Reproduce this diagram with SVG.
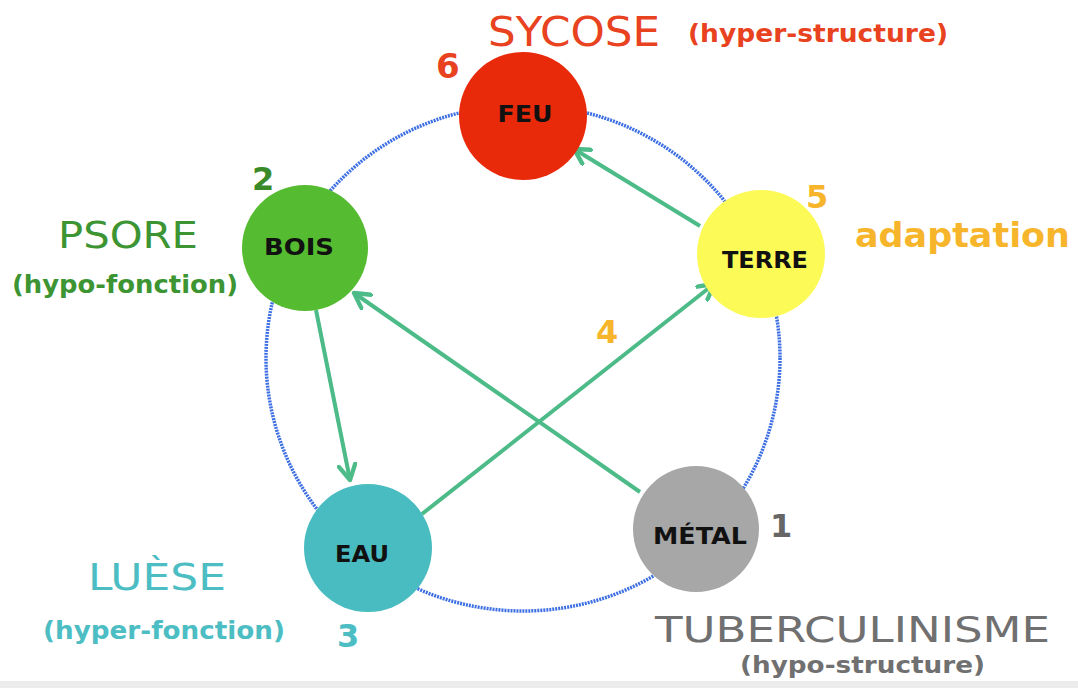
<svg xmlns="http://www.w3.org/2000/svg" width="1078" height="688" viewBox="0 0 1078 688">
<style>
text{font-family:"DejaVu Sans","Liberation Sans",sans-serif}
.lbl{font-size:23px;font-weight:bold;fill:#111;text-anchor:middle}
.node circle{stroke:none}
.conn line{stroke:#4dbb88;stroke-width:4;fill:none}
</style>
<defs>
<marker id="ah" viewBox="0 0 12 12" refX="10" refY="6" markerWidth="5" markerHeight="5" orient="auto" markerUnits="strokeWidth">
<path d="M1,1 L10,6 L1,11" fill="none" stroke="#4dbb88" stroke-width="2.6" stroke-linecap="round" stroke-linejoin="round"/>
</marker>
</defs>
<rect width="1078" height="688" fill="#ffffff"/>
<rect x="0" y="681" width="1078" height="7" fill="#ececec"/>
<ellipse id="cycle" cx="523" cy="358" rx="257" ry="253" fill="none" stroke="#3d6fe3" stroke-width="3.5" stroke-dasharray="2 1"/>
<g class="conn">
<line x1="700" y1="226" x2="574" y2="149" marker-end="url(#ah)"/>
<line x1="316" y1="310" x2="350" y2="480" marker-end="url(#ah)"/>
<line x1="422" y1="514" x2="714" y2="284" marker-end="url(#ah)"/>
<line x1="640" y1="492" x2="354" y2="293" marker-end="url(#ah)"/>
</g>
<g id="feu" class="node"><circle cx="523" cy="116" r="64" fill="#e8290a"/><text class="lbl" x="525" y="122" textLength="55" lengthAdjust="spacingAndGlyphs">FEU</text></g>
<g id="bois" class="node"><circle cx="305" cy="248" r="63" fill="#55bb30"/><text class="lbl" x="299" y="255" textLength="70" lengthAdjust="spacingAndGlyphs">BOIS</text></g>
<g id="terre" class="node"><circle cx="761" cy="254" r="64" fill="#fcfa57"/><text class="lbl" x="765" y="268" textLength="86" lengthAdjust="spacingAndGlyphs">TERRE</text></g>
<g id="eau" class="node"><circle cx="368" cy="548" r="64" fill="#48bcc0"/><text class="lbl" x="362" y="562" textLength="54" lengthAdjust="spacingAndGlyphs">EAU</text></g>
<g id="metal" class="node"><circle cx="696" cy="529" r="63" fill="#a7a7a7"/><text class="lbl" x="700" y="544" textLength="94" lengthAdjust="spacingAndGlyphs">MÉTAL</text></g>
<g id="labels">
<text x="488" y="46" font-size="40" fill="#e84220" textLength="172" lengthAdjust="spacingAndGlyphs">SYCOSE</text>
<text x="688" y="42" font-size="25" font-weight="bold" fill="#e84220" textLength="260" lengthAdjust="spacingAndGlyphs">(hyper-structure)</text>
<text x="436" y="78" font-size="34" font-weight="bold" fill="#e84220">6</text>
<text x="252" y="190" font-size="32" font-weight="bold" fill="#3a8a2a">2</text>
<text x="58" y="248" font-size="38" fill="#3c9532" textLength="140" lengthAdjust="spacingAndGlyphs">PSORE</text>
<text x="12" y="293" font-size="25" font-weight="bold" fill="#3c9532" textLength="226" lengthAdjust="spacingAndGlyphs">(hypo-fonction)</text>
<text x="806" y="208" font-size="32" font-weight="bold" fill="#f6b52a">5</text>
<text x="855" y="247" font-size="34" font-weight="bold" fill="#f6b52a" textLength="215" lengthAdjust="spacingAndGlyphs">adaptation</text>
<text x="596" y="343" font-size="32" font-weight="bold" fill="#f6b52a">4</text>
<text x="770" y="537" font-size="32" font-weight="bold" fill="#666666">1</text>
<text x="655" y="642" font-size="36" fill="#707070" textLength="395" lengthAdjust="spacingAndGlyphs">TUBERCULINISME</text>
<text x="740" y="673" font-size="23" font-weight="bold" fill="#707070" textLength="245" lengthAdjust="spacingAndGlyphs">(hypo-structure)</text>
<text x="88" y="590" font-size="37" fill="#4cbec3" textLength="138" lengthAdjust="spacingAndGlyphs">LUÈSE</text>
<text x="43" y="639" font-size="25" font-weight="bold" fill="#4cbec3" textLength="242" lengthAdjust="spacingAndGlyphs">(hyper-fonction)</text>
<text x="337" y="647" font-size="32" font-weight="bold" fill="#4cbec3">3</text>
</g>
</svg>
